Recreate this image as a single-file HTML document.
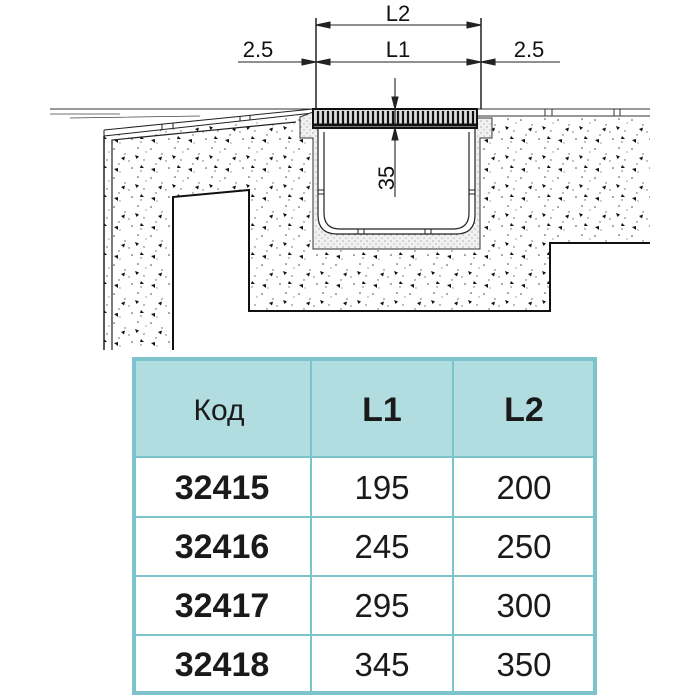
<!DOCTYPE html>
<html><head><meta charset="utf-8"><style>
body{margin:0;width:700px;height:700px;background:#fff;overflow:hidden;font-family:"Liberation Sans",sans-serif}
svg{position:absolute;left:0;top:0}
</style></head><body>
<svg width="700" height="700" viewBox="0 0 700 700" xmlns="http://www.w3.org/2000/svg">
<defs>
<pattern id="sp" width="37" height="29" patternUnits="userSpaceOnUse">
<rect width="37" height="29" fill="#fff"/>
<circle cx="3" cy="4" r="0.8" fill="#444"/><circle cx="14" cy="9" r="0.7" fill="#555"/>
<circle cx="27" cy="3" r="0.8" fill="#444"/><circle cx="8" cy="19" r="0.7" fill="#555"/>
<circle cx="21" cy="23" r="0.8" fill="#444"/><circle cx="33" cy="15" r="0.7" fill="#555"/>
<circle cx="18" cy="16" r="0.7" fill="#666"/><circle cx="30" cy="26" r="0.7" fill="#666"/>
<circle cx="35" cy="7" r="0.6" fill="#666"/><circle cx="9" cy="27" r="0.6" fill="#666"/>
<path d="M10 13l4-1.5-1 4z" fill="#111"/><path d="M24 10l4 1.5-2.5 2.5z" fill="#111"/>
<path d="M3 24l4-1 0 4z" fill="#111"/><path d="M30 20l3 3-4 0z" fill="#111"/>
</pattern>
<pattern id="mo" width="6" height="6" patternUnits="userSpaceOnUse">
<rect width="6" height="6" fill="#f1f1f1"/><circle cx="1" cy="1" r="0.6" fill="#888"/><circle cx="4" cy="4" r="0.6" fill="#999"/>
</pattern>
</defs>
<path d="M104 136 L300 117 L313 112 L313 128 L313 249 L476 249 L476 128 L490 118 L650 118 L650 243 L550 243 L550 311 L249 311 L249 190 L173 197 L173 350 L104 350 Z" fill="url(#sp)" stroke="none"/>
<path d="M104 350 L104 136" stroke="#222" stroke-width="1.5" fill="none"/>
<path d="M112 350 L112 140 L296 122" stroke="#222" stroke-width="1.2" fill="none"/>
<path d="M173 350 L173 197 L249 190 L249 311 L550 311 L550 243 L650 243" stroke="#111" stroke-width="2" fill="none"/>
<path d="M50 109 L313 109" stroke="#333" stroke-width="1"/>
<path d="M50 114 L120 114 M70 118 L200 116" stroke="#444" stroke-width="0.8"/>
<path d="M104 130 L313 109 M104 136 L313 113" stroke="#222" stroke-width="1"/>
<path d="M104 130 L104 136 M162 124 L162 130 M173 123 L173 128 M240 116 L240 121 M250 115 L250 120" stroke="#222" stroke-width="1"/>
<path d="M476 109 L650 109 M476 116 L650 116 M545 109 L545 116 M552 109 L552 116 M614 109 L614 116 M620 109 L620 116" stroke="#333" stroke-width="1"/>
<path d="M300 117 L300 138 L313 138 L313 249 L480 249 L480 138 L492 138 L492 118 L476 118 L476 128 L313 128 L313 112 Z" fill="url(#mo)" stroke="#333" stroke-width="1"/>
<path d="M318 128 L318 215 Q318 234 337 234 L456 234 Q475 234 475 215 L475 128 Z" fill="#fff" stroke="#222" stroke-width="1.2"/>
<path d="M324 132 L324 213 Q324 229 340 229 L453 229 Q469 229 469 213 L469 132" fill="none" stroke="#222" stroke-width="1.2"/>
<path d="M318 190 L324 190 M318 194 L324 194 M469 190 L475 190 M469 194 L475 194 M358 229 L358 234 M364 229 L364 234 M425 229 L425 234 M431 229 L431 234" stroke="#222" stroke-width="1"/>
<rect x="313" y="109" width="164" height="19" fill="#ddd" stroke="#111" stroke-width="2"/>
<g stroke="#111" stroke-width="2.2">
<path d="M318 111V126M323 111V126M328 111V126M333 111V126M338 111V126M343 111V126M348 111V126M353 111V126M358 111V126M363 111V126M368 111V126M373 111V126M378 111V126M383 111V126M388 111V126M393 111V126M398 111V126M403 111V126M408 111V126M413 111V126M418 111V126M423 111V126M428 111V126M433 111V126M438 111V126M443 111V126M448 111V126M453 111V126M458 111V126M463 111V126M468 111V126M473 111V126"/>
</g>
<path d="M313 125 H477" stroke="#111" stroke-width="3"/>
<g stroke="#222" stroke-width="1.1" fill="#222">
<path d="M316 18 V109 M481 18 V109" stroke-width="1.5"/>
<path d="M316 25 H481"/>
<path d="M316 25 l14 -3 v6z M481 25 l-14 -3 v6z"/>
<path d="M238 62 H481 M481 62 H560"/>
<path d="M316 62 l-14 -3 v6z M316 62 l14 -3 v6z M481 62 l14 -3 v6z M481 62 l-14 -3 v6z"/>
<path d="M395 78 V197"/>
<path d="M395 109 l-3 -12 h6z M395 128 l-3 12 h6z"/>
</g>
<g font-family="Liberation Sans, sans-serif" font-size="22" fill="#111" text-anchor="middle">
<text x="398" y="21">L2</text>
<text x="398" y="57">L1</text>
<text x="258" y="57">2.5</text>
<text x="529" y="57">2.5</text>
<text transform="translate(394 178) rotate(-90)">35</text>
</g>
<rect x="134" y="359" width="461" height="98" fill="#b1dde1"/>
<rect x="134" y="359" width="461" height="334" fill="none" stroke="#7cc3cc" stroke-width="4"/>
<g stroke="#7cc3cc" stroke-width="2">
<path d="M311 359 V693 M453 359 V693 M134 457 H595 M134 517 H595 M134 576 H595 M134 635 H595"/>
</g>
<g font-family="Liberation Sans, sans-serif" font-size="33" fill="#1a1a1a" text-anchor="middle">
<text x="219" y="420" font-size="30">Код</text>
<text x="382" y="421" font-weight="bold" font-size="34">L1</text>
<text x="524" y="421" font-weight="bold" font-size="34">L2</text>
<g font-weight="bold" font-size="34">
<text x="222" y="499">32415</text><text x="222" y="558">32416</text><text x="222" y="617">32417</text><text x="222" y="676">32418</text>
</g>
<text x="382" y="499">195</text><text x="382" y="558">245</text><text x="382" y="617">295</text><text x="382" y="676">345</text>
<text x="524" y="499">200</text><text x="524" y="558">250</text><text x="524" y="617">300</text><text x="524" y="676">350</text>
</g>
</svg>
</body></html>
